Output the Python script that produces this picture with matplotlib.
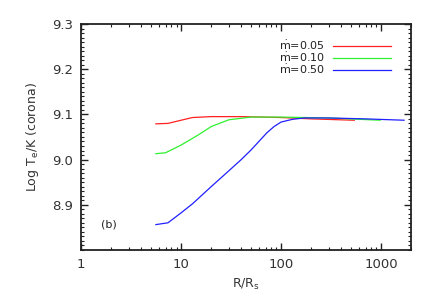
import matplotlib
matplotlib.use('Agg')
import matplotlib.pyplot as plt
from matplotlib.ticker import MultipleLocator, FixedLocator, LogLocator, NullFormatter

# mdot = 0.05
r_005 = [5.6, 7.4, 10, 13, 20, 40, 100, 200, 540]
t_005 = [9.079, 9.080, 9.087, 9.093, 9.095, 9.095, 9.093, 9.090, 9.087]

# mdot = 0.10
r_010 = [5.6, 7.0, 10, 15, 20, 30, 50, 100, 300, 980]
t_010 = [9.013, 9.015, 9.032, 9.055, 9.073, 9.088, 9.094, 9.094, 9.092, 9.087]

# mdot = 0.50
r_050 = [5.6, 7.4, 10, 13, 20, 30, 40, 50, 60, 72, 85, 100, 130, 170, 300, 700, 1700]
t_050 = [8.856, 8.860, 8.882, 8.902, 8.940, 8.975, 9.000, 9.021, 9.040, 9.059, 9.073, 9.083,
         9.089, 9.092, 9.092, 9.090, 9.087]

labels = [r'$\dot{\mathrm{m}}$=0.05', r'$\dot{\mathrm{m}}$=0.10', r'$\dot{\mathrm{m}}$=0.50']
colours = ['#ff2020', '#30f030', '#2020ff']

plt.rcParams['font.family'] = ['DejaVu Sans']
plt.rcParams['mathtext.fontset'] = 'dejavusans'

fig = plt.figure(figsize=(4.36, 3.0), dpi=100)
ax = fig.add_axes([0.186, 0.167, 0.757, 0.753])

for r, t, lab, c in zip([r_005, r_010, r_050], [t_005, t_010, t_050], labels, colours):
    ax.plot(r, t, color=c, lw=0.9, label=lab)

ax.set_xscale('log')
ax.set_xlim(1, 2000)
ax.set_ylim(8.8, 9.3)

ax.xaxis.set_major_locator(FixedLocator([1, 10, 100, 1000]))
ax.set_xticklabels(['1', '10', '100', '1000'])
ax.xaxis.set_minor_locator(LogLocator(base=10, subs=range(2, 10)))
ax.xaxis.set_minor_formatter(NullFormatter())
ax.yaxis.set_major_locator(FixedLocator([8.9, 9.0, 9.1, 9.2, 9.3]))
ax.set_yticklabels(['8.9', '9.0', '9.1', '9.2', '9.3'])
ax.yaxis.set_minor_locator(MultipleLocator(0.01))

ax.tick_params(which='both', direction='in', top=True, right=True, labelsize=9.5,
               color='#222222', labelcolor='#333333')
ax.tick_params(which='major', length=5, width=1, pad=6)
ax.tick_params(which='minor', length=2.5, width=0.8)
for s in ax.spines.values():
    s.set_linewidth(1.3)
    s.set_color('#222222')

ax.set_xlabel(r'R/R$_\mathrm{s}$', fontsize=9, color='#333333')
ax.set_ylabel(r'Log T$_\mathrm{e}$/K (corona)', fontsize=9, color='#333333', labelpad=8)
ax.text(0.06, 0.10, '(b)', transform=ax.transAxes, fontsize=8, color='#222222')

leg = ax.legend(loc='upper right', bbox_to_anchor=(0.955, 0.96), frameon=False, fontsize=8,
                handlelength=5.2, handletextpad=0.7, markerfirst=False, labelspacing=-0.1,
                borderpad=0)
for t in leg.get_texts():
    t.set_color('#222222')

fig.savefig('out.png', dpi=100)
